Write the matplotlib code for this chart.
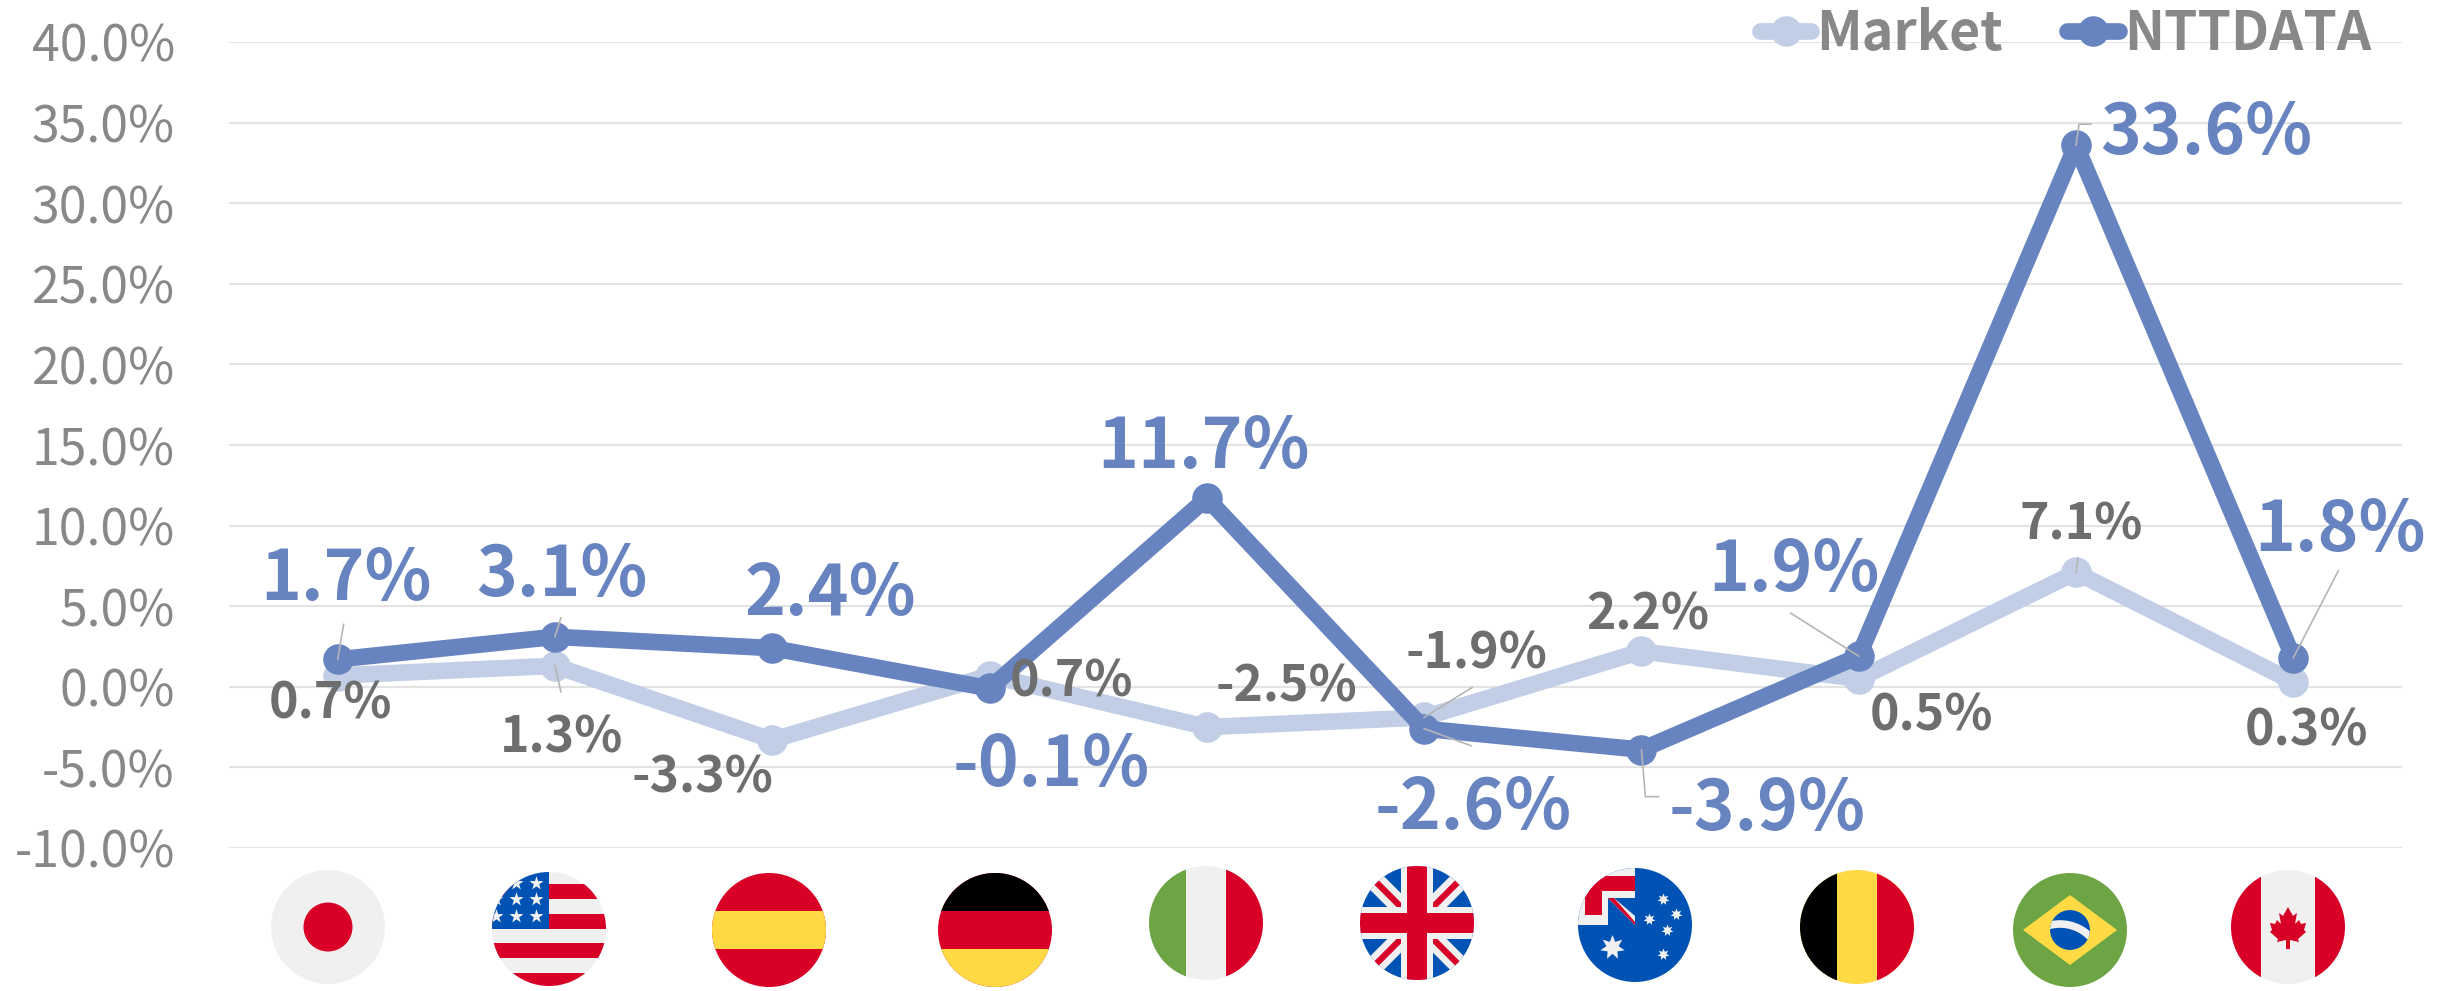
import numpy as np
import matplotlib
matplotlib.use('Agg')
import matplotlib.pyplot as plt
from matplotlib.patches import Circle, Rectangle, Polygon
from matplotlib.transforms import Affine2D

plt.rcParams['font.family'] = ['Noto Sans CJK JP', 'DejaVu Sans']

# values
countries = ['JP', 'US', 'ES', 'DE', 'IT', 'GB', 'AU', 'BE', 'BR', 'CA']
market = [0.7, 1.3, -3.3, 0.7, -2.5, -1.9, 2.2, 0.5, 7.1, 0.3]
nttdata = [1.7, 3.1, 2.4, -0.1, 11.7, -2.6, -3.9, 1.9, 33.6, 1.8]
y_ticks = [-10, -5, 0, 5, 10, 15, 20, 25, 30, 35, 40]

# label offsets from their point, in pixels
market_offsets = [(-7, -28), (7, -72), (-70, -38), (82, -6), (80, 40),
                  (52, 63), (6, 36), (73, -37), (5, 47), (13, -49)]
ntt_offsets = [(8, 80), (7, 61), (58, 53), (62, -77), (-3, 50),
               (49, -80), (126, -60), (-65, 85), (130, 11), (47, 127)]

# leader lines: point index -> path in pixels from that point
market_leaders = {1: [(0, 0), (6, -26)], 5: [(0, 0), (48, 30)], 8: [(0, 0), (2, 14)]}
ntt_leaders = {0: [(0, 0), (6, 35)], 1: [(0, 0), (6, 19)], 5: [(0, 0), (47, -17)],
               6: [(0, 0), (4, -47), (17, -47)], 7: [(0, 0), (-68, 43)],
               8: [(0, 0), (3, 21), (15, 21)], 9: [(0, 0), (45, 87)]}

# flag centres in image pixels
flag_x = [328, 549, 769, 995, 1206, 1417, 1635, 1857, 2070, 2288]
flag_y = [927, 929, 930, 930, 923, 923, 925, 927, 930, 927]
FLAG_R = 57

RED = '#d80027'
WHITE = '#f0f0f0'
BLUE = '#0052b4'
YELLOW = '#ffda44'
GREEN = '#6da544'
NTT_COLOR = '#6784c1'
MARKET_COLOR = '#c1cee6'


def rect(ax, clip, x0, y0, x1, y1, color):
    p = Rectangle((x0, y0), x1 - x0, y1 - y0, fc=color, ec='none')
    ax.add_patch(p)
    p.set_clip_path(clip)


def poly(ax, clip, pts, color):
    p = Polygon(pts, closed=True, fc=color, ec='none')
    ax.add_patch(p)
    p.set_clip_path(clip)


def stars(ax, clip, xs, ys, size, marker='*'):
    s = ax.scatter(xs, ys, s=size, marker=marker, c=WHITE, linewidths=0, zorder=3)
    s.set_clip_path(clip)


def bar_diag(x0, y0, x1, y1, w):
    """Corners of a slanted bar of width w."""
    d = np.array([x1 - x0, y1 - y0], dtype=float)
    n = np.array([-d[1], d[0]]) / np.hypot(*d) * w / 2
    a, b = np.array([x0, y0]), np.array([x1, y1])
    return [a + n, b + n, b - n, a - n]


def union_jack(ax, clip, x0, y0, x1, y1):
    """Crossed bars spanning the given box."""
    w = x1 - x0
    for a, b in [((x0, y0), (x1, y1)), ((x0, y1), (x1, y0))]:
        poly(ax, clip, bar_diag(a[0], a[1], b[0], b[1], w * 0.17), WHITE)
        poly(ax, clip, bar_diag(a[0], a[1], b[0], b[1], w * 0.055), RED)
    cx, cy = (x0 + x1) / 2, (y0 + y1) / 2
    rect(ax, clip, cx - w * 0.14, y0, cx + w * 0.14, y1, WHITE)
    rect(ax, clip, x0, cy - w * 0.14, x1, cy + w * 0.14, WHITE)
    rect(ax, clip, cx - w * 0.085, y0, cx + w * 0.085, y1, RED)
    rect(ax, clip, x0, cy - w * 0.085, x1, cy + w * 0.085, RED)


def draw_flag(ax, code, cx, cy, r):
    base = {'JP': WHITE, 'US': WHITE, 'ES': RED, 'DE': RED, 'IT': WHITE,
            'GB': BLUE, 'AU': BLUE, 'BE': YELLOW, 'BR': GREEN, 'CA': WHITE}[code]
    disc = Circle((cx, cy), r, fc=base, ec='none')
    ax.add_patch(disc)
    l, t, rgt, b = cx - r, cy - r, cx + r, cy + r

    if code == 'JP':
        ax.add_patch(Circle((cx, cy), r * 0.43, fc=RED, ec='none'))
    elif code == 'US':
        for k in range(4):
            rect(ax, disc, l, t + 12 + 29.7 * k, rgt, t + 27 + 29.7 * k, RED)
        rect(ax, disc, l, t, cx, cy, BLUE)
        stars(ax, disc, [cx - 13, cx - 33, cx - 13, cx - 33, cx - 53, cx - 13, cx - 33, cx - 53],
              [cy - 46, cy - 46, cy - 30, cy - 30, cy - 30, cy - 13, cy - 13, cy - 13], 112)
    elif code == 'ES':
        rect(ax, disc, l, cy - r * 0.34, rgt, cy + r * 0.34, YELLOW)
    elif code == 'DE':
        rect(ax, disc, l, t, rgt, cy - r * 0.34, 'black')
        rect(ax, disc, l, cy + r * 0.34, rgt, b, YELLOW)
    elif code == 'IT':
        rect(ax, disc, l, t, cx - r * 0.35, b, GREEN)
        rect(ax, disc, cx + r * 0.35, t, rgt, b, RED)
    elif code == 'GB':
        union_jack(ax, disc, l, t, rgt, b)
    elif code == 'AU':
        rect(ax, disc, l, t, cx, cy, WHITE)
        rect(ax, disc, cx - 50, t + 8, cx, t + 23, RED)
        rect(ax, disc, cx - 50, t + 8, cx - 33, cy - 10, RED)
        rect(ax, disc, cx - 27, t + 30, cx, cy, BLUE)
        poly(ax, disc, [(cx - 27, t + 30), (cx - 21, t + 30), (cx, cy - 9), (cx, cy)], WHITE)
        poly(ax, disc, [(cx - 27, t + 30), (cx - 21, t + 30), (cx, cy - 3), (cx, cy)], RED)
        stars(ax, disc, [cx + 28, cx + 14, cx + 41, cx + 32, cx + 28], [cy - 26, cy - 6, cy - 11, cy + 5, cy + 29],
              75, marker=(7, 1, 0))
        stars(ax, disc, [cx - 23], [cy + 22], 324, marker=(7, 1, 0))
    elif code == 'BE':
        rect(ax, disc, l, t, cx - r * 0.35, b, 'black')
        rect(ax, disc, cx + r * 0.35, t, rgt, b, RED)
    elif code == 'BR':
        ax.add_patch(Polygon([(cx, cy - 35), (cx + 47, cy), (cx, cy + 35), (cx - 47, cy)],
                             closed=True, fc=YELLOW, ec='none'))
        globe = Circle((cx, cy), r * 0.35, fc=BLUE, ec='none')
        ax.add_patch(globe)
        arc_t = np.linspace(225, 320, 30) * np.pi / 180
        arc, = ax.plot(cx - 10 + 42 * np.cos(arc_t), cy + 36 + 42 * np.sin(arc_t), color=WHITE, lw=5.5)
        arc.set_clip_path(globe)
    elif code == 'CA':
        rect(ax, disc, l, t, cx - r * 0.47, b, RED)
        rect(ax, disc, cx + r * 0.47, t, rgt, b, RED)
        half = [(0, -20), (5, -11), (9, -14), (7, -3), (11, -7), (13, -3), (18, -4),
                (16, 3), (18, 5), (10, 12), (11, 15), (2, 13), (2, 22)]
        pts = [(cx + a, cy + c) for a, c in half] + [(cx - a, cy + c) for a, c in half[::-1]]
        ax.add_patch(Polygon(pts, closed=True, fc=RED, ec='none'))


def main():
    fig = plt.figure(figsize=(24.43, 9.91), dpi=100)
    ax = fig.add_axes([229 / 2443, 1 - 848 / 991, (2402 - 229) / 2443, (848 - 42) / 991])
    x = np.arange(len(countries))

    line_market, = ax.plot(x, market, color=MARKET_COLOR, lw=12, marker='o', ms=21,
                           solid_capstyle='round', clip_on=False, zorder=3, label='Market')
    line_ntt, = ax.plot(x, nttdata, color=NTT_COLOR, lw=12, marker='o', ms=21,
                        solid_capstyle='round', clip_on=False, zorder=4, label='NTTDATA')

    ax.set_xlim(-0.5, 9.5)
    ax.set_ylim(-10, 40)
    ax.set_xticks([])
    ax.set_yticks(y_ticks)
    ax.set_yticklabels([f'{v:.1f}%' for v in y_ticks], fontsize=36, color='#888888')
    ax.tick_params(axis='y', length=0, pad=39)
    ax.grid(axis='y', color='#e3e3e3', lw=1.5)
    ax.set_axisbelow(True)
    for s in ax.spines.values():
        s.set_visible(False)

    fig.canvas.draw()
    for values, leaders in [(market, market_leaders), (nttdata, ntt_leaders)]:
        for i, path in leaders.items():
            px, py = ax.transData.transform((x[i], values[i]))
            trans = Affine2D().translate(px, py)
            ax.plot([p[0] for p in path], [p[1] for p in path], color='#b5b5b5', lw=1.2,
                    transform=trans, clip_on=False, zorder=6)

    for values, offsets, color, size in [(market, market_offsets, '#6e6e6e', 36),
                                         (nttdata, ntt_offsets, NTT_COLOR, 50)]:
        for i, v in enumerate(values):
            ax.annotate(f'{v:.1f}%', xy=(x[i], v), xytext=offsets[i], textcoords='offset pixels',
                        ha='center', va='center', fontsize=size, fontweight='bold', color=color,
                        zorder=7, annotation_clip=False)

    ax.legend(handles=[line_market, line_ntt], loc='upper right', bbox_to_anchor=(2398 / 2443, 1 + 20 / 991),
              bbox_transform=fig.transFigure, ncol=2, frameon=False, borderpad=0, handlelength=0.96,
              handletextpad=0.1, columnspacing=1.2, labelcolor='#888888', numpoints=1,
              prop={'family': 'Noto Sans CJK JP', 'weight': 'bold', 'size': 38.5})

    flags = fig.add_axes([0, 0, 1, 1], facecolor='none')
    flags.set_xlim(0, 2443)
    flags.set_ylim(991, 0)
    flags.axis('off')
    for code, cx, cy in zip(countries, flag_x, flag_y):
        draw_flag(flags, code, cx, cy, FLAG_R)

    fig.savefig('out.png', dpi=100)


if __name__ == "__main__":
    main()
